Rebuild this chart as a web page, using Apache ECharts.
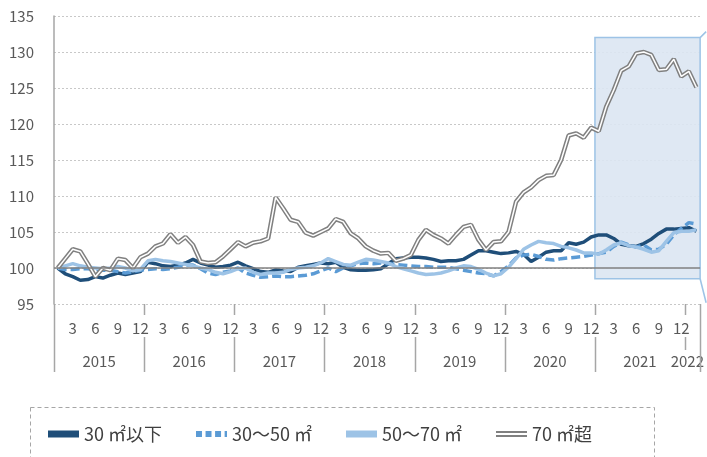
<!DOCTYPE html>
<html>
<head>
<meta charset="utf-8">
<script src="https://cdn.jsdelivr.net/npm/echarts@6/dist/echarts.min.js"></script>
<style>
  html, body { margin: 0; padding: 0; background: #fff; }
  #chart { width: 707px; height: 457px; }
</style>
</head>
<body>
<div id="chart"></div>
<script>
// 2015年1月〜2022年2月（月次）
const years = [2015, 2016, 2017, 2018, 2019, 2020, 2021, 2022];
const monthTicks = [3, 6, 9, 12];
const months = [];
years.forEach((y) => {
  const last = y === 2022 ? 2 : 12;
  for (let m = 1; m <= last; m++) months.push(y + "/" + m);
});

// 30㎡以下
const sqm30under = [
  100.0, 99.2, 98.8, 98.3, 98.4, 98.8, 98.6, 99.0, 99.3, 99.1, 99.3, 99.5,
  100.8, 100.6, 100.3, 100.2, 100.4, 100.7, 101.2, 100.7, 100.4, 100.1, 100.2, 100.4,
  100.8, 100.3, 99.9, 99.5, 99.4, 99.75, 99.6, 99.5, 100.1, 100.3, 100.5, 100.7,
  100.6, 100.8, 100.1, 99.75, 99.7, 99.7, 99.75, 99.9, 100.6, 101.3, 101.4, 101.5,
  101.5, 101.4, 101.2, 100.9, 101.0, 101.0, 101.2, 101.8, 102.4, 102.4, 102.2, 102.0,
  102.1, 102.3, 101.9, 100.9, 101.5, 102.2, 102.4, 102.4, 103.5, 103.3, 103.6, 104.3,
  104.6, 104.6, 104.1, 103.3, 103.1, 103.0, 103.4, 104.0, 104.8, 105.4, 105.4, 105.5,
  105.6, 105.1,
];
// 30〜50㎡
const sqm30to50 = [
  100.0, 99.8, 99.8, 99.9, 99.9, 99.8, 99.7, 99.7, 99.5, 99.3, 99.5, 99.7,
  99.8, 99.9, 99.8, 99.9, 100.1, 100.4, 100.4, 99.9, 99.3, 99.1, 99.4, 99.6,
  100.0, 99.3, 99.0, 98.7, 98.8, 98.9, 98.8, 98.8, 98.9, 99.0, 99.2, 99.6,
  100.0, 99.5, 100.0, 100.3, 100.6, 100.7, 100.6, 100.7, 100.6, 100.5, 100.4, 100.3,
  100.2, 100.2, 100.1, 100.1, 100.1, 99.9, 99.7, 99.5, 99.3, 99.2, 98.9, 99.5,
  100.3, 101.4, 101.8, 101.9, 101.6, 101.2, 101.1, 101.3, 101.4, 101.5, 101.6, 101.8,
  102.0, 102.2, 103.0, 103.6, 103.2, 102.9, 103.2, 102.5, 102.6, 103.3, 104.6, 105.5,
  106.3, 106.1,
];
// 50〜70㎡
const sqm50to70 = [
  100.0, 100.3, 100.6, 100.3, 100.1, 100.0, 99.9, 100.0, 100.2, 100.0, 99.6, 99.8,
  101.0, 101.2, 101.0, 100.9, 100.7, 100.5, 100.3, 100.0, 99.8, 99.4, 99.2, 99.5,
  99.9, 100.0, 99.4, 99.1, 99.3, 99.3, 99.4, 99.8, 100.0, 100.1, 100.3, 100.7,
  101.3, 100.9, 100.5, 100.4, 100.8, 101.2, 101.1, 100.9, 100.7, 100.2, 99.9, 99.6,
  99.3, 99.1, 99.15, 99.3, 99.6, 100.0, 100.3, 100.2, 99.8, 99.3, 98.9, 99.2,
  100.1, 101.3, 102.6, 103.2, 103.7, 103.5, 103.4, 103.0, 102.8, 102.5, 102.1, 102.1,
  101.9, 102.5, 103.2, 103.5, 103.1, 102.9, 102.6, 102.2, 102.4, 103.7, 104.9, 105.1,
  105.1, 105.3,
];
// 70㎡超
const sqm70over = [
  100.0, 101.3, 102.6, 102.3, 100.6, 98.8, 100.0, 99.7, 101.3, 101.1, 100.0, 101.5,
  102.0, 103.0, 103.4, 104.7, 103.5, 104.3, 103.2, 100.9, 100.7, 100.8, 101.6, 102.6,
  103.6, 103.0, 103.5, 103.7, 104.1, 109.8, 108.3, 106.7, 106.4, 104.9, 104.5, 105.0,
  105.5, 106.8, 106.4, 104.8, 104.1, 103.0, 102.4, 102.0, 102.1, 101.0, 101.3, 101.8,
  103.9, 105.3, 104.6, 104.1, 103.4, 104.6, 105.7, 106.0, 103.9, 102.5, 103.6, 103.7,
  105.0, 109.2, 110.5, 111.2, 112.2, 112.8, 112.9, 115.0, 118.4, 118.7, 118.1, 119.5,
  119.0, 122.4, 124.7, 127.4, 128.0, 129.8, 130.0, 129.6, 127.5, 127.6, 129.0, 126.6,
  127.3, 125.1,
];

// 強調枠（2021年1月〜2022年2月）
const highlightFrom = 72;
const highlightTo = months.length;
const highlightRange = [98.5, 132];

const names = ["30 ㎡以下", "30～50 ㎡", "50～70 ㎡", "70 ㎡超"];
const fontFamily = "'Noto Sans CJK JP', 'Noto Sans', sans-serif";

const monthOf = (v) => Number(String(v).split("/")[1]);

// 年の区切り位置（月の通し番号）
const yearBoundaries = [];
months.forEach((m, i) => {
  if (monthOf(m) === 1) yearBoundaries.push(i);
});
yearBoundaries.push(months.length);

const chart = echarts.init(document.getElementById("chart"));

chart.setOption({
  animation: false,
  textStyle: { fontFamily: fontFamily },
  grid: { left: 54, right: 5, top: 16, height: 288, containLabel: false },
  legend: {
    left: 43,
    top: 420,
    itemWidth: 31,
    itemHeight: 7,
    itemGap: 34,
    textStyle: { fontSize: 18, color: "#404040" },
    data: [
      { name: names[0], icon: "rect" },
      { name: names[1], icon: "path://M0,0h5v5h-5zM8,0h5v5h-5zM16,0h5v5h-5zM24,0h2v5h-2z" },
      { name: names[2], icon: "rect" },
      { name: names[3], icon: "path://M0,0h30v2h-30zM0,4h30v2h-30z" },
    ],
  },
  graphic: [
    {
      type: "rect",
      left: 28,
      top: 405,
      shape: { width: 624, height: 50 },
      style: { fill: "none", stroke: "#A6A6A6", lineWidth: 1, lineDash: [4, 3] },
      silent: true,
    },
  ],
  xAxis: [
    {
      // 月ラベル
      type: "category",
      data: months,
      boundaryGap: true,
      axisLine: { show: false },
      axisTick: { show: false },
      axisLabel: {
        interval: (i, v) => monthTicks.indexOf(monthOf(v)) >= 0,
        formatter: (v) => String(monthOf(v)),
        margin: 17,
        fontSize: 15,
        color: "#595959",
      },
      splitLine: { show: false },
    },
    {
      // 年ラベル
      type: "category",
      data: months,
      position: "bottom",
      boundaryGap: true,
      axisLine: { show: false },
      axisTick: { show: false },
      axisLabel: {
        interval: (i, v) => monthOf(v) === 6 || v === "2022/1",
        formatter: (v) => {
          const y = String(v).split("/")[0];
          return y === "2022" ? "{b|" + y + "}" : "{a|" + y + "}";
        },
        margin: 50,
        rich: {
          a: { fontSize: 15, color: "#595959", padding: [0, 0, 0, 7.5] },
          b: { fontSize: 15, color: "#595959", padding: [0, 3, 0, 0] },
        },
      },
    },
    {
      // 年の区切り線・強調枠用
      type: "value",
      min: 0,
      max: months.length,
      show: false,
    },
  ],
  yAxis: {
    type: "value",
    min: 95,
    max: 135,
    interval: 5,
    axisLine: { show: true, lineStyle: { color: "#A6A6A6", width: 1.5 } },
    axisTick: { show: false },
    axisLabel: { fontSize: 15, color: "#595959", margin: 20 },
    splitLine: { lineStyle: { color: "#C8C8C8", type: [2, 2], width: 1 } },
  },
  series: [
    {
      type: "line",
      xAxisIndex: 2,
      data: [],
      silent: true,
      markArea: {
        silent: true,
        itemStyle: { color: "rgba(220,230,242,0.9)", borderColor: "#9DC3E6", borderWidth: 1.5 },
        data: [[{ coord: [highlightFrom, highlightRange[1]] }, { coord: [highlightTo, highlightRange[0]] }]],
      },
      markLine: {
        silent: true,
        symbol: "none",
        label: { show: false },
        lineStyle: { color: "#808080", type: "solid", width: 1.5 },
        data: [{ yAxis: 100 }],
      },
    },
    {
      // 年の区切り線（月ラベルの行は空ける）と強調枠の引き出し線
      type: "custom",
      xAxisIndex: 2,
      data: yearBoundaries.map((b) => [b, 100]),
      encode: { x: 0, y: 1 },
      silent: true,
      clip: false,
      z: 10,
      renderItem: (params, api) => {
        const b = api.value(0);
        const x = Math.round(api.coord([b, 100])[0]) + 0.5;
        const y0 = params.coordSys.y + params.coordSys.height;
        const isEdge = b === 0 || b === months.length;
        const isLastYear = b === months.length - 2;
        const segs = isEdge ? [[0, 68]] : [[0, 11], [33, isLastYear ? 46 : 68]];
        const children = segs.map((s) => ({
          type: "line",
          shape: { x1: x, y1: y0 + s[0], x2: x, y2: y0 + s[1] },
          style: { stroke: "#A6A6A6", lineWidth: 1.5 },
        }));
        if (b === highlightTo) {
          const tr = api.coord([b, highlightRange[1]]);
          const br = api.coord([b, highlightRange[0]]);
          children.push(
            {
              type: "line",
              shape: { x1: tr[0], y1: tr[1], x2: tr[0] + 6, y2: tr[1] - 6 },
              style: { stroke: "#9DC3E6", lineWidth: 1.5 },
            },
            {
              type: "line",
              shape: { x1: br[0], y1: br[1], x2: br[0] + 6, y2: br[1] + 24 },
              style: { stroke: "#9DC3E6", lineWidth: 1.5 },
            }
          );
        }
        return { type: "group", children: children };
      },
    },
    {
      name: names[0],
      type: "line",
      data: sqm30under,
      showSymbol: false,
      color: "#1F4E79",
      lineStyle: { color: "#1F4E79", width: 3.5 },
    },
    {
      name: names[1],
      type: "line",
      data: sqm30to50,
      showSymbol: false,
      color: "#5B9BD5",
      lineStyle: { color: "#5B9BD5", width: 3.5, type: [9, 4] },
    },
    {
      name: names[2],
      type: "line",
      data: sqm50to70,
      showSymbol: false,
      color: "#9DC3E6",
      lineStyle: { color: "#9DC3E6", width: 3.5 },
    },
    {
      name: names[3],
      type: "line",
      data: sqm70over,
      showSymbol: false,
      color: "#808080",
      lineStyle: { color: "#808080", width: 4.5 },
    },
    {
      // 二重線の内側
      name: "inner",
      type: "line",
      data: sqm70over,
      showSymbol: false,
      silent: true,
      lineStyle: { color: "#ffffff", width: 1.5 },
    },
  ],
});
</script>
</body>
</html>
